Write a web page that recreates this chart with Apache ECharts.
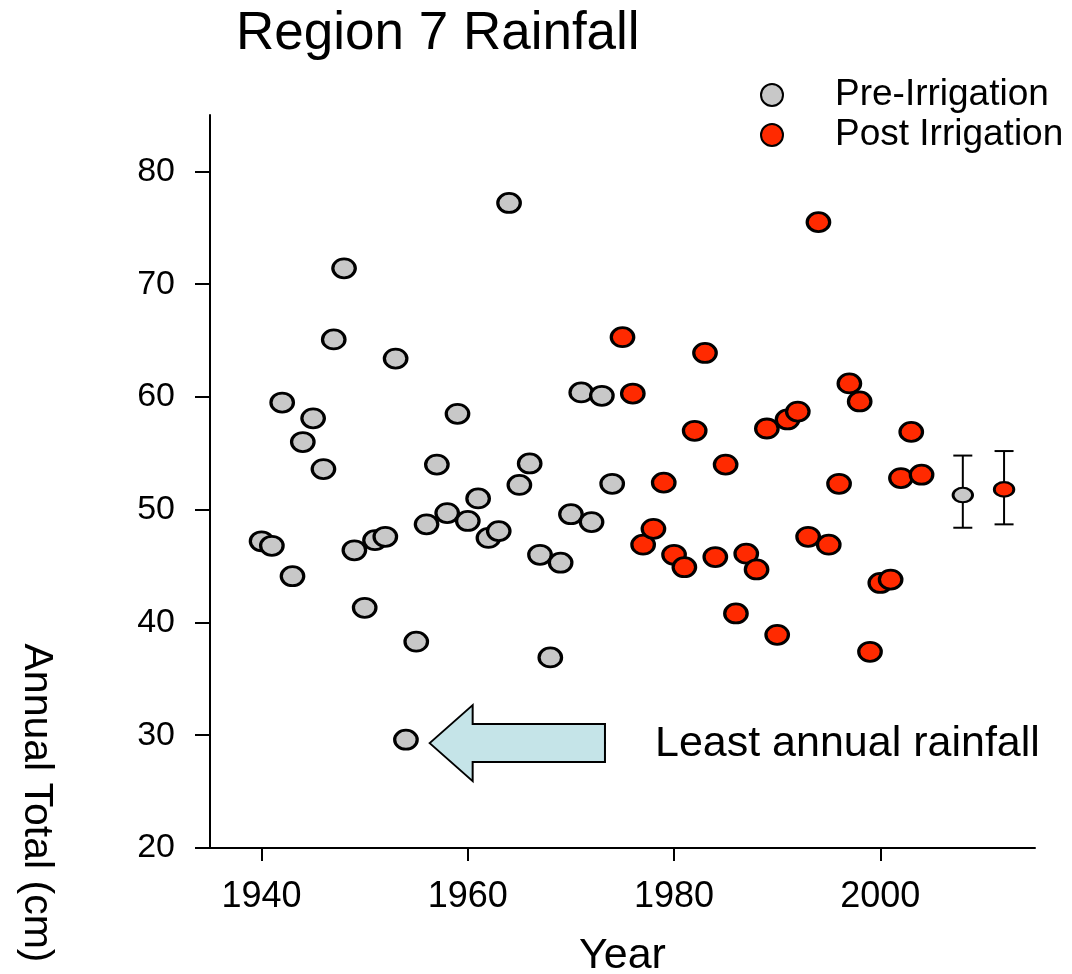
<!DOCTYPE html>
<html>
<head>
<meta charset="utf-8">
<script src="https://cdn.jsdelivr.net/npm/echarts@6/dist/echarts.min.js"></script>
<style>
html,body{margin:0;padding:0;background:#fff;}
#chart{width:1072px;height:974px;}
</style>
</head>
<body>
<div id="chart"></div>
<script>
// ---- data ----
var preYears = [1940,1941,1942,1943,1944,1945,1946,1947,1948,1949,1950,1951,1952,1953,1954,1955,1956,1957,1958,1959,1960,1961,1962,1963,1964,1965,1966,1967,1968,1969,1970,1971,1972,1973,1974];
var preValues = [47.2,46.8,59.5,44.1,56.0,58.1,53.6,65.1,71.4,46.4,41.3,47.3,47.6,63.4,29.6,38.3,48.7,54.0,49.7,58.5,49.0,51.0,47.5,48.1,77.2,52.2,54.1,46.0,36.9,45.3,49.6,60.4,48.9,60.1,52.3];
var postYears = [1975,1976,1977,1978,1979,1980,1981,1982,1983,1984,1985,1986,1987,1988,1989,1990,1991,1992,1993,1994,1995,1996,1997,1998,1999,2000,2001,2002,2003,2004];
var postValues = [65.3,60.3,46.9,48.3,52.4,46.0,44.9,57.0,63.9,45.8,54.0,40.8,46.1,44.7,57.2,38.9,58.0,58.7,47.6,75.5,46.9,52.3,61.2,59.6,37.4,43.5,43.8,52.8,56.9,53.1];
// summary (mean with error bars)
var sumYears = [2008, 2012];
var sumMeans = [51.3, 51.8];
var sumLow = [48.4, 48.7];
var sumHigh = [54.8, 55.2];
var xTicks = [1940, 1960, 1980, 2000];
var yTicks = [20, 30, 40, 50, 60, 70, 80];
// annotation (data space)
var noteArrowTip = [1956.3, 29.3];
var noteArrowTail = [1973.3, 29.3];
var noteText = 'Least annual rainfall';

var PRE_COLOR = '#c8c8c8';
var POST_COLOR = '#ff2a00';
var ELLIPSE = 'path://M1,0A1,1,0,1,1,-1,0A1,1,0,1,1,1,0Z';
var FONT = 'Liberation Sans, Arial, sans-serif';

function pairs(xs, ys){ return xs.map(function(x,i){ return [x, ys[i]]; }); }

var chart = echarts.init(document.getElementById('chart'));
var option = {
  animation: false,
  backgroundColor: '#fff',
  title: {
    text: 'Region 7 Rainfall',
    left: 236, top: 8, padding: 0,
    textStyle: {fontFamily: FONT, fontSize: 53, fontWeight: 'normal', color: '#000'}
  },
  legend: {
    orient: 'vertical',
    left: 760, top: 75, padding: 0,
    itemWidth: 26, itemHeight: 22, itemGap: 0,
    data: ['Pre-Irrigation', 'Post Irrigation'],
    textStyle: {fontFamily: FONT, fontSize: 37, color: '#000', lineHeight: 40, padding: [0,0,0,45]}
  },
  grid: {left: 210, right: 37, top: 115, bottom: 126, containLabel: false, outerBoundsMode: 'none'},
  xAxis: {
    type: 'value', min: 1935, max: 2015,
    name: 'Year', nameLocation: 'middle', nameGap: 87,
    nameTextStyle: {fontFamily: FONT, fontSize: 43, color: '#000'},
    axisLine: {show: true, onZero: false, lineStyle: {color: '#000', width: 2}},
    axisTick: {show: true, length: 13, lineStyle: {color: '#000', width: 2}, customValues: xTicks},
    axisLabel: {margin: 31, fontFamily: FONT, fontSize: 36, color: '#000', customValues: xTicks,
      formatter: function(v){ return String(v); }},
    splitLine: {show: false}
  },
  yAxis: {
    type: 'value', min: 20, max: 85,
    axisLine: {show: true, onZero: false, lineStyle: {color: '#000', width: 2}},
    axisTick: {show: true, length: 15, lineStyle: {color: '#000', width: 2}, customValues: yTicks},
    axisLabel: {margin: 35, fontFamily: FONT, fontSize: 34, color: '#000', customValues: yTicks,
      formatter: function(v){ return String(v); }},
    splitLine: {show: false}
  },
  series: [
    {
      name: 'Pre-Irrigation', type: 'scatter', symbol: ELLIPSE, symbolSize: [22.5, 19],
      itemStyle: {color: PRE_COLOR, borderColor: '#000', borderWidth: 3, opacity: 1},
      data: pairs(preYears, preValues), z: 3
    },
    {
      name: 'Post Irrigation', type: 'scatter', symbol: ELLIPSE, symbolSize: [22.5, 19],
      itemStyle: {color: POST_COLOR, borderColor: '#000', borderWidth: 3, opacity: 1},
      data: pairs(postYears, postValues), z: 3
    },
    {
      name: 'errorbars', type: 'custom',
      data: sumYears.map(function(y,i){ return [y, sumLow[i], sumHigh[i]]; }),
      renderItem: function(params, api){
        var lo = api.coord([api.value(0), api.value(1)]);
        var hi = api.coord([api.value(0), api.value(2)]);
        var hw = 9.5;
        var st = {stroke: '#000', lineWidth: 2};
        return {type: 'group', children: [
          {type: 'line', shape: {x1: lo[0], y1: lo[1], x2: hi[0], y2: hi[1]}, style: st},
          {type: 'line', shape: {x1: lo[0]-hw, y1: lo[1], x2: lo[0]+hw, y2: lo[1]}, style: st},
          {type: 'line', shape: {x1: hi[0]-hw, y1: hi[1], x2: hi[0]+hw, y2: hi[1]}, style: st}
        ]};
      },
      z: 2
    },
    {
      name: 'means', type: 'scatter', symbol: ELLIPSE, symbolSize: [19.5, 14.5],
      data: sumYears.map(function(y,i){
        return {value: [y, sumMeans[i]], itemStyle: {color: i === 0 ? PRE_COLOR : POST_COLOR}};
      }),
      itemStyle: {borderColor: '#000', borderWidth: 2.5, opacity: 1},
      z: 4
    }
  ]
};
chart.setOption(option);

// annotation: arrow + text positioned from data coordinates
var tip = chart.convertToPixel({gridIndex: 0}, noteArrowTip);
var tail = chart.convertToPixel({gridIndex: 0}, noteArrowTail);
var headLen = 43, headHalf = 38, shaftHalf = 19;
var cy = tip[1];
var arrowPts = [
  [tip[0], cy],
  [tip[0]+headLen, cy-headHalf],
  [tip[0]+headLen, cy-shaftHalf],
  [tail[0], cy-shaftHalf],
  [tail[0], cy+shaftHalf],
  [tip[0]+headLen, cy+shaftHalf],
  [tip[0]+headLen, cy+headHalf]
];
chart.setOption({
  graphic: [
    {type: 'polygon', shape: {points: arrowPts}, style: {fill: '#c5e4e8', stroke: '#000', lineWidth: 2}, z: 5},
    {type: 'text', x: tail[0] + 50, y: cy + 1, style: {text: noteText, fontFamily: FONT, fontSize: 43, fill: '#000', align: 'left', verticalAlign: 'middle'}, z: 5},
    {type: 'text', x: 36, y: 803, rotation: -Math.PI/2, style: {text: 'Annual Total (cm)', fontFamily: FONT, fontSize: 41, fill: '#000', align: 'center', verticalAlign: 'middle'}, z: 5}
  ]
});
</script>
</body>
</html>
